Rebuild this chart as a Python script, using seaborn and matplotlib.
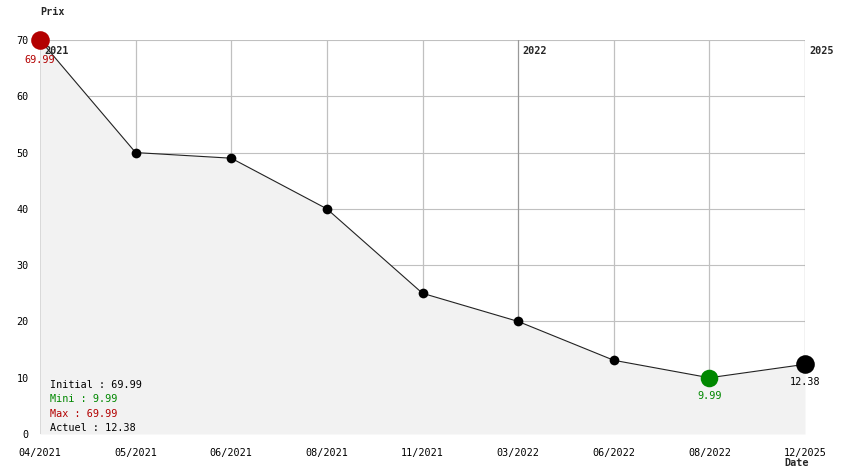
import numpy as np
import pandas as pd
import seaborn as sns
import matplotlib.pyplot as plt

dates = ["04/2021", "05/2021", "06/2021", "08/2021", "11/2021",
         "03/2022", "06/2022", "08/2022", "12/2025"]
prices = [69.99, 50, 49, 40, 25, 20, 13.1, 9.99, 12.38]
year_marks = {0: "2021", 5: "2022", 8: "2025"}
y_ticks = [0, 10, 20, 30, 40, 50, 60, 70]

df = pd.DataFrame({"pos": np.arange(len(dates)), "date": dates, "price": prices})

sns.set_theme(style="white")
plt.rcParams["font.family"] = ["DejaVu Sans Mono"]
FS = 7.3

fig = plt.figure(figsize=(8.44, 4.74), dpi=100)
ax = fig.add_axes([40 / 844, 40 / 474, 765 / 844, 394 / 474])

# grid (hidden below the filled area, like the original)
for yv in y_ticks:
    ax.axhline(yv, color="#c0c0c0", lw=0.8, zorder=1)
for i in df["pos"]:
    col = "#999999" if i in year_marks and i != 0 else "#c0c0c0"
    ax.axvline(i, color=col, lw=0.9, zorder=1)

# filled area under the curve
ax.fill_between(df["pos"], df["price"], 0, color="#f2f2f2", lw=0, zorder=2)

sns.lineplot(data=df, x="pos", y="price", color="#222222", lw=0.8,
             marker="o", markersize=7, markeredgewidth=0,
             markerfacecolor="black", ax=ax, zorder=3)

i_max = int(np.argmax(prices))
i_min = int(np.argmin(prices))
i_last = len(prices) - 1
ax.scatter([i_max], [prices[i_max]], s=180, color="#b30000", zorder=5, lw=0, clip_on=False)
ax.scatter([i_min], [prices[i_min]], s=160, color="#008800", zorder=5, lw=0, clip_on=False)
ax.scatter([i_last], [prices[i_last]], s=180, color="black", zorder=5, lw=0, clip_on=False)

ax.annotate(f"{prices[i_max]:.2f}", (i_max, prices[i_max]), xytext=(0, -14),
            textcoords="offset points", ha="center", va="center",
            color="#b30000", zorder=6, fontsize=FS)
ax.annotate(f"{prices[i_min]:.2f}", (i_min, prices[i_min]), xytext=(0, -13),
            textcoords="offset points", ha="center", va="center",
            color="#008800", zorder=6, fontsize=FS)
ax.annotate(f"{prices[i_last]:.2f}", (i_last, prices[i_last]), xytext=(0, -13),
            textcoords="offset points", ha="center", va="center",
            color="black", zorder=6, fontsize=FS)

for i, yr in year_marks.items():
    ax.annotate(yr, (i, 70), xytext=(3, -8), textcoords="offset points",
                ha="left", va="center", fontweight="bold", fontsize=FS, zorder=4)

ax.set_xlim(0, len(dates) - 1)
ax.set_ylim(0, 70)
ax.set_xticks(df["pos"])
ax.set_xticklabels(dates)
ax.set_yticks(y_ticks)
ax.tick_params(axis="both", length=0, labelsize=FS, colors="black")
ax.tick_params(axis="x", pad=10)
ax.tick_params(axis="y", pad=8)
for s in ax.spines.values():
    s.set_visible(False)
ax.set_xlabel("")
ax.set_ylabel("")

fig.text(40 / 844, 1 - 12 / 474, "Prix", fontweight="bold", ha="left",
         va="center", fontsize=FS)
fig.text(797 / 844, 1 - 463 / 474, "Date", fontweight="bold", ha="center",
         va="center", fontsize=FS)

summary = [
    (f"Initial : {prices[0]:.2f}", "black"),
    (f"Mini : {prices[i_min]:.2f}", "#008800"),
    (f"Max : {prices[i_max]:.2f}", "#b30000"),
    (f"Actuel : {prices[i_last]:.2f}", "black"),
]
for k, (txt, col) in enumerate(summary):
    fig.text(50 / 844, 1 - (385 + 14.3 * k) / 474, txt, color=col,
             ha="left", va="center", fontsize=FS)

fig.savefig("out.png", dpi=100)
